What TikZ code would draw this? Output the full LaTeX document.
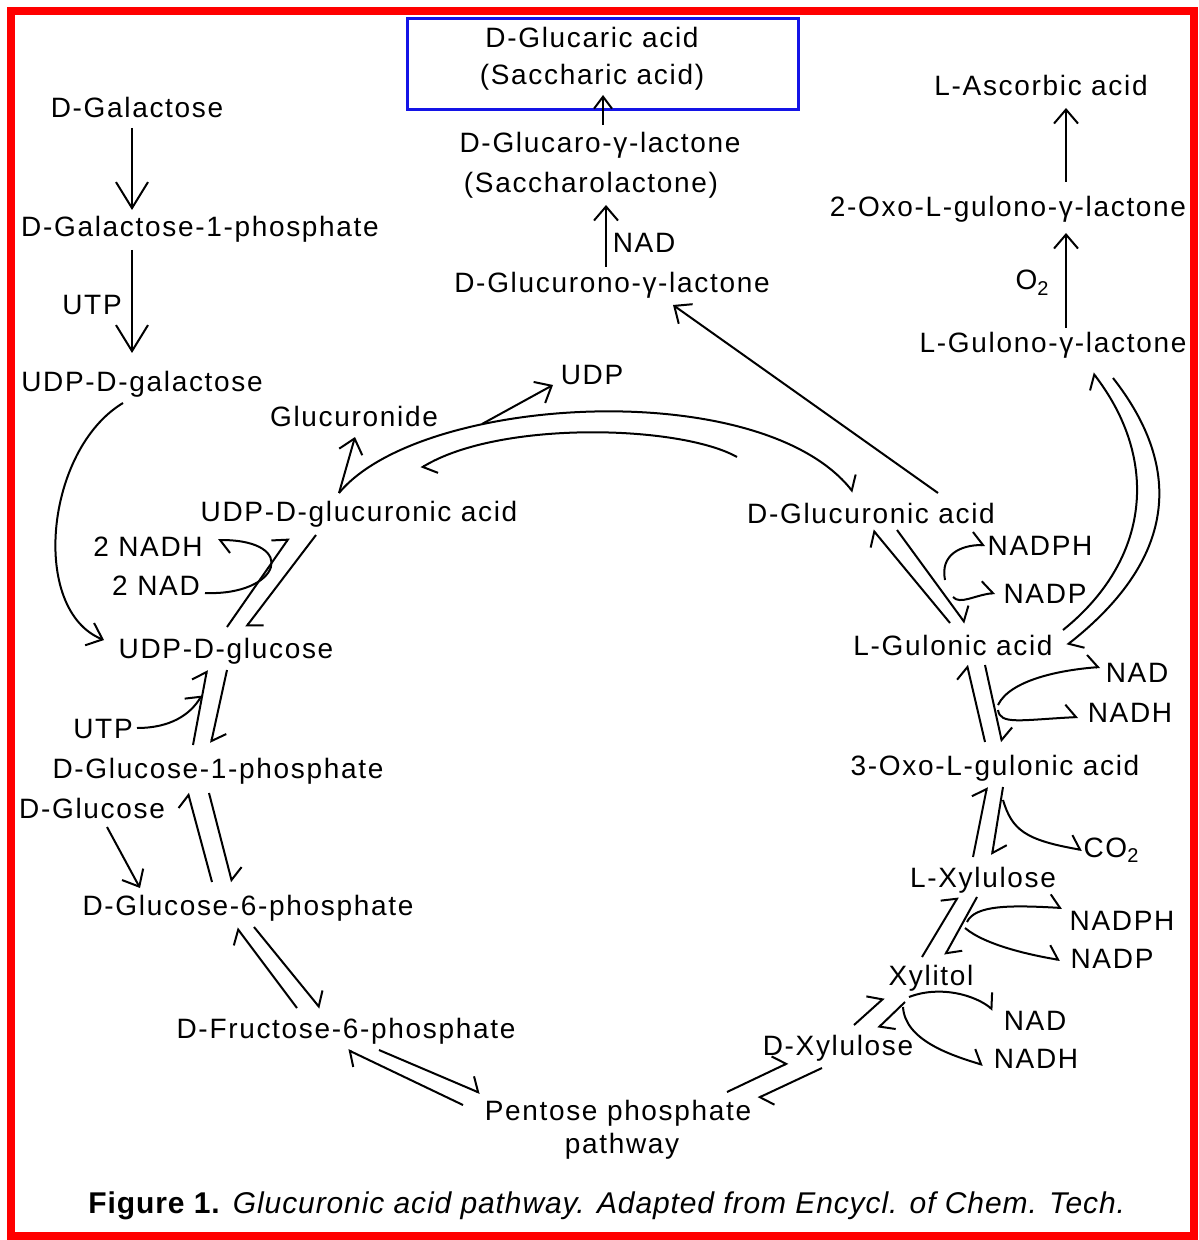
\documentclass[tikz,border=0pt]{standalone}
\usepackage{fontspec}
\setmainfont{Liberation Sans}[LetterSpace=6]
\usetikzlibrary{arrows.meta}
\begin{document}
\begin{tikzpicture}[x=0.5pt,y=-0.5pt,
  lbl/.style={anchor=base,inner sep=0pt,font=\fontsize{14}{16}\selectfont},
  ln/.style={line width=1pt,black},
  bigarr/.style={ln,-{Straight Barb[length=13pt,width=16pt]}},
  midarr/.style={ln,-{Straight Barb[length=7pt,width=12pt]}},
  smlarr/.style={ln,-{Straight Barb[length=6pt,width=9pt]}},
  harp/.style={ln,-{Straight Barb[harpoon,length=5pt,width=13pt]}},
]
\useasboundingbox (0,0) rectangle (1198,1240);
\draw[red,line width=4pt] (11,11) rectangle (1194,1236);

% ---------- labels ----------
\node[draw={rgb,255:red,20;green,20;blue,230},line width=1.5pt,minimum width=195.5pt,minimum height=45.5pt,inner sep=0pt] (box) at (603,64) {};
\node[lbl] (glucaric) at (592,48) {D-Glucaric acid};
\node[lbl] (sacch) at (592,85) {(Saccharic acid)};
\node[lbl] (glucaro) at (600,153) {D-Glucaro-γ-lactone};
\node[lbl] (saccl) at (591,193) {(Saccharolactone)};
\node[lbl] (nadl) at (644,253) {NAD};
\node[lbl] (glucurono) at (612,293) {D-Glucurono-γ-lactone};
\node[lbl] (asc) at (1041,96) {L-Ascorbic acid};
\node[lbl] (oxogul) at (1008,217) {2-Oxo-L-gulono-γ-lactone};
\node[lbl] (o2) at (1032,290) {O\raisebox{-0.4ex}{\fontsize{10}{12}\selectfont 2}};
\node[lbl] (gulono) at (1053,353) {L-Gulono-γ-lactone};
\node[lbl] (gal) at (137,118) {D-Galactose};
\node[lbl] (gal1p) at (200,237) {D-Galactose-1-phosphate};
\node[lbl] (utp1) at (92,315) {UTP};
\node[lbl] (udpgal) at (142,392) {UDP-D-galactose};
\node[lbl] (glcnd) at (354,427) {Glucuronide};
\node[lbl] (udp) at (592,385) {UDP};
\node[lbl] (udpga) at (359,521) {UDP-D-glucuronic acid};
\node[lbl] (nadh2) at (148,556) {2 NADH};
\node[lbl] (nad2) at (156,595) {2 NAD};
\node[lbl] (udpglc) at (226,658) {UDP-D-glucose};
\node[lbl] (utp2) at (103,738) {UTP};
\node[lbl] (g1p) at (218,778) {D-Glucose-1-phosphate};
\node[lbl] (glc) at (92,818) {D-Glucose};
\node[lbl] (g6p) at (248,915) {D-Glucose-6-phosphate};
\node[lbl] (f6p) at (346,1038) {D-Fructose-6-phosphate};
\node[lbl] (ppp) at (618,1120) {Pentose phosphate};
\node[lbl] (ppp2) at (622,1153) {pathway};
\node[lbl] (dxyl) at (838,1055) {D-Xylulose};
\node[lbl] (xylitol) at (931,985) {Xylitol};
\node[lbl] (nadx) at (1035,1030) {NAD};
\node[lbl] (nadhx) at (1036,1068) {NADH};
\node[lbl] (lxyl) at (983,887) {L-Xylulose};
\node[lbl] (nadphx) at (1122,930) {NADPH};
\node[lbl] (nadpx) at (1112,968) {NADP};
\node[lbl] (co2) at (1111,857) {CO\raisebox{-0.4ex}{\fontsize{10}{12}\selectfont 2}};
\node[lbl] (oxo) at (995,775) {3-Oxo-L-gulonic acid};
\node[lbl] (gulonic) at (953,655) {L-Gulonic acid};
\node[lbl] (nadg) at (1137,682) {NAD};
\node[lbl] (nadhg) at (1130,722) {NADH};
\node[lbl] (nadphg) at (1040,555) {NADPH};
\node[lbl] (nadpg) at (1045,603) {NADP};
\node[lbl] (glcA) at (871,523) {D-Glucuronic acid};
\node[anchor=base west,inner sep=0pt,font=\fontsize{15}{18}\selectfont\addfontfeatures{LetterSpace=3}] (cap) at (88,1213)
  {\textbf{Figure 1.} \textit{Glucuronic acid pathway. Adapted from Encycl. of Chem. Tech.}};

% ---------- connector end points ----------
\coordinate (a1s) at (132,128); \coordinate (a1e) at (132,210);
\coordinate (a2s) at (132,250); \coordinate (a2e) at (132,353);
\coordinate (ugs) at (123,403); \coordinate (uge) at (104,640);
\coordinate (gls) at (107,827); \coordinate (gle) at (140,888);
\coordinate (gds) at (339,493); \coordinate (gde) at (355,437);
\coordinate (uds) at (482,424); \coordinate (ude) at (553,385);
\coordinate (las) at (938,493); \coordinate (lae) at (673,305);
\coordinate (l1s) at (606,267); \coordinate (l1e) at (606,205);
\coordinate (l2s) at (603,125); \coordinate (l2e) at (603,95);
\coordinate (s1s) at (1066,328); \coordinate (s1e) at (1066,233);
\coordinate (s2s) at (1066,182); \coordinate (s2e) at (1066,108);

% ---------- single arrows ----------
\draw[bigarr] (a1s) -- (a1e);
\draw[bigarr] (a2s) -- (a2e);
\draw[midarr] (ugs) .. controls (45,450) and (30,610) .. (uge);
\draw[midarr] (gls) -- (gle);
\draw[midarr] (gds) -- (gde);
\draw[midarr] (uds) -- (ude);
\draw[midarr] (las) -- (lae);
\draw[midarr] (l1s) -- (l1e);
\draw[smlarr] (l2s) -- (l2e);
\draw[midarr] (s1s) -- (s1e);
\draw[midarr] (s2s) -- (s2e);

% ---------- top arcs ----------
\coordinate (t1s) at (339,493); \coordinate (t1e) at (853,492);
\coordinate (t2s) at (737,457); \coordinate (t2e) at (421,468);
\draw[harp] (t1s) .. controls (420,395) and (760,375) .. (t1e);
\draw[harp] (t2s) .. controls (680,425) and (500,420) .. (t2e);

% ---------- UDP-glucuronic <-> UDP-glucose ----------
\coordinate (p2a) at (227,627); \coordinate (p2b) at (289,538);
\coordinate (p2c) at (316,535); \coordinate (p2d) at (246,627);
\draw[harp] (p2a) -- (p2b);
\draw[harp] (p2c) -- (p2d);
\coordinate (c2s) at (205,593); \coordinate (c2e) at (218,540);
\draw[harp] (c2s) .. controls (280,596) and (300,540) .. (c2e);

% ---------- UDP-glucose <-> G1P ----------
\coordinate (p3a) at (193,745); \coordinate (p3b) at (207,670);
\coordinate (p3c) at (227,670); \coordinate (p3d) at (211,743);
\draw[harp] (p3a) -- (p3b);
\draw[harp] (p3c) -- (p3d);
\coordinate (c3s) at (137,728); \coordinate (c3e) at (202,695);
\draw[harp] (c3s) .. controls (170,728) and (190,715) .. (c3e);

% ---------- G1P <-> G6P ----------
\coordinate (p4a) at (212,882); \coordinate (p4b) at (188,793);
\coordinate (p4c) at (209,793); \coordinate (p4d) at (232,882);
\draw[harp] (p4a) -- (p4b);
\draw[harp] (p4c) -- (p4d);

% ---------- G6P <-> F6P ----------
\coordinate (p5a) at (297,1008); \coordinate (p5b) at (237,928);
\coordinate (p5c) at (254,927); \coordinate (p5d) at (320,1008);
\draw[harp] (p5a) -- (p5b);
\draw[harp] (p5c) -- (p5d);

% ---------- F6P <-> pentose ----------
\coordinate (p6a) at (379,1050); \coordinate (p6b) at (480,1093);
\coordinate (p6c) at (463,1105); \coordinate (p6d) at (348,1050);
\draw[harp] (p6a) -- (p6b);
\draw[harp] (p6c) -- (p6d);

% ---------- pentose <-> D-xylulose ----------
\coordinate (p7a) at (727,1092); \coordinate (p7b) at (788,1063);
\coordinate (p7c) at (822,1068); \coordinate (p7d) at (758,1098);
\draw[harp] (p7a) -- (p7b);
\draw[harp] (p7c) -- (p7d);

% ---------- D-xylulose <-> xylitol ----------
\coordinate (p8a) at (854,1025); \coordinate (p8b) at (884,998);
\coordinate (p8c) at (905,1002); \coordinate (p8d) at (878,1028);
\draw[harp] (p8a) -- (p8b);
\draw[harp] (p8c) -- (p8d);
\coordinate (c8a) at (909,997); \coordinate (c8b) at (993,1010);
\coordinate (c8c) at (903,1007); \coordinate (c8d) at (983,1065);
\draw[harp] (c8a) .. controls (940,985) and (975,995) .. (c8b);
\draw[harp] (c8c) .. controls (905,1040) and (950,1055) .. (c8d);

% ---------- xylitol <-> L-xylulose ----------
\coordinate (p9a) at (922,957); \coordinate (p9b) at (958,897);
\coordinate (p9c) at (977,897); \coordinate (p9d) at (945,955);
\draw[harp] (p9a) -- (p9b);
\draw[harp] (p9c) -- (p9d);
\coordinate (c9a) at (967,922); \coordinate (c9b) at (1062,908);
\coordinate (c9c) at (965,928); \coordinate (c9d) at (1060,960);
\draw[harp] (c9a) .. controls (975,905) and (1010,905) .. (c9b);
\draw[harp] (c9c) .. controls (985,945) and (1030,955) .. (c9d);

% ---------- L-xylulose <-> 3-oxo ----------
\coordinate (q1a) at (973,857); \coordinate (q1b) at (987,787);
\coordinate (q1c) at (1003,787); \coordinate (q1d) at (992,855);
\draw[harp] (q1a) -- (q1b);
\draw[harp] (q1c) -- (q1d);
\coordinate (cqa) at (1003,800); \coordinate (cqb) at (1082,850);
\draw[harp] (cqa) .. controls (1012,830) and (1025,840) .. (cqb);

% ---------- 3-oxo <-> L-gulonic ----------
\coordinate (q2a) at (985,742); \coordinate (q2b) at (967,665);
\coordinate (q2c) at (985,665); \coordinate (q2d) at (1002,742);
\draw[harp] (q2a) -- (q2b);
\draw[harp] (q2c) -- (q2d);
\coordinate (cra) at (998,705); \coordinate (crb) at (1100,667);
\coordinate (crc) at (998,710); \coordinate (crd) at (1078,717);
\draw[harp] (cra) .. controls (1010,680) and (1060,670) .. (crb);
\draw[harp] (crc) .. controls (1000,725) and (1020,720) .. (crd);

% ---------- L-gulonic <-> D-glucuronic ----------
\coordinate (q3a) at (950,623); \coordinate (q3b) at (873,530);
\coordinate (q3c) at (897,530); \coordinate (q3d) at (965,623);
\draw[harp] (q3a) -- (q3b);
\draw[harp] (q3c) -- (q3d);
\coordinate (csa) at (945,580); \coordinate (csb) at (985,545);
\coordinate (csc) at (953,597); \coordinate (csd) at (995,593);
\draw[harp] (csa) .. controls (940,555) and (960,545) .. (csb);
\draw[harp] (csc) .. controls (960,605) and (975,595) .. (csd);

% ---------- L-gulonic <-> L-gulono-lactone ----------
\coordinate (q4a) at (1063,630); \coordinate (q4b) at (1093,373);
\coordinate (q4c) at (1113,378); \coordinate (q4d) at (1067,645);
\draw[harp] (q4a) .. controls (1150,560) and (1160,460) .. (q4b);
\draw[harp] (q4c) .. controls (1185,470) and (1175,560) .. (q4d);
\end{tikzpicture}
\end{document}
